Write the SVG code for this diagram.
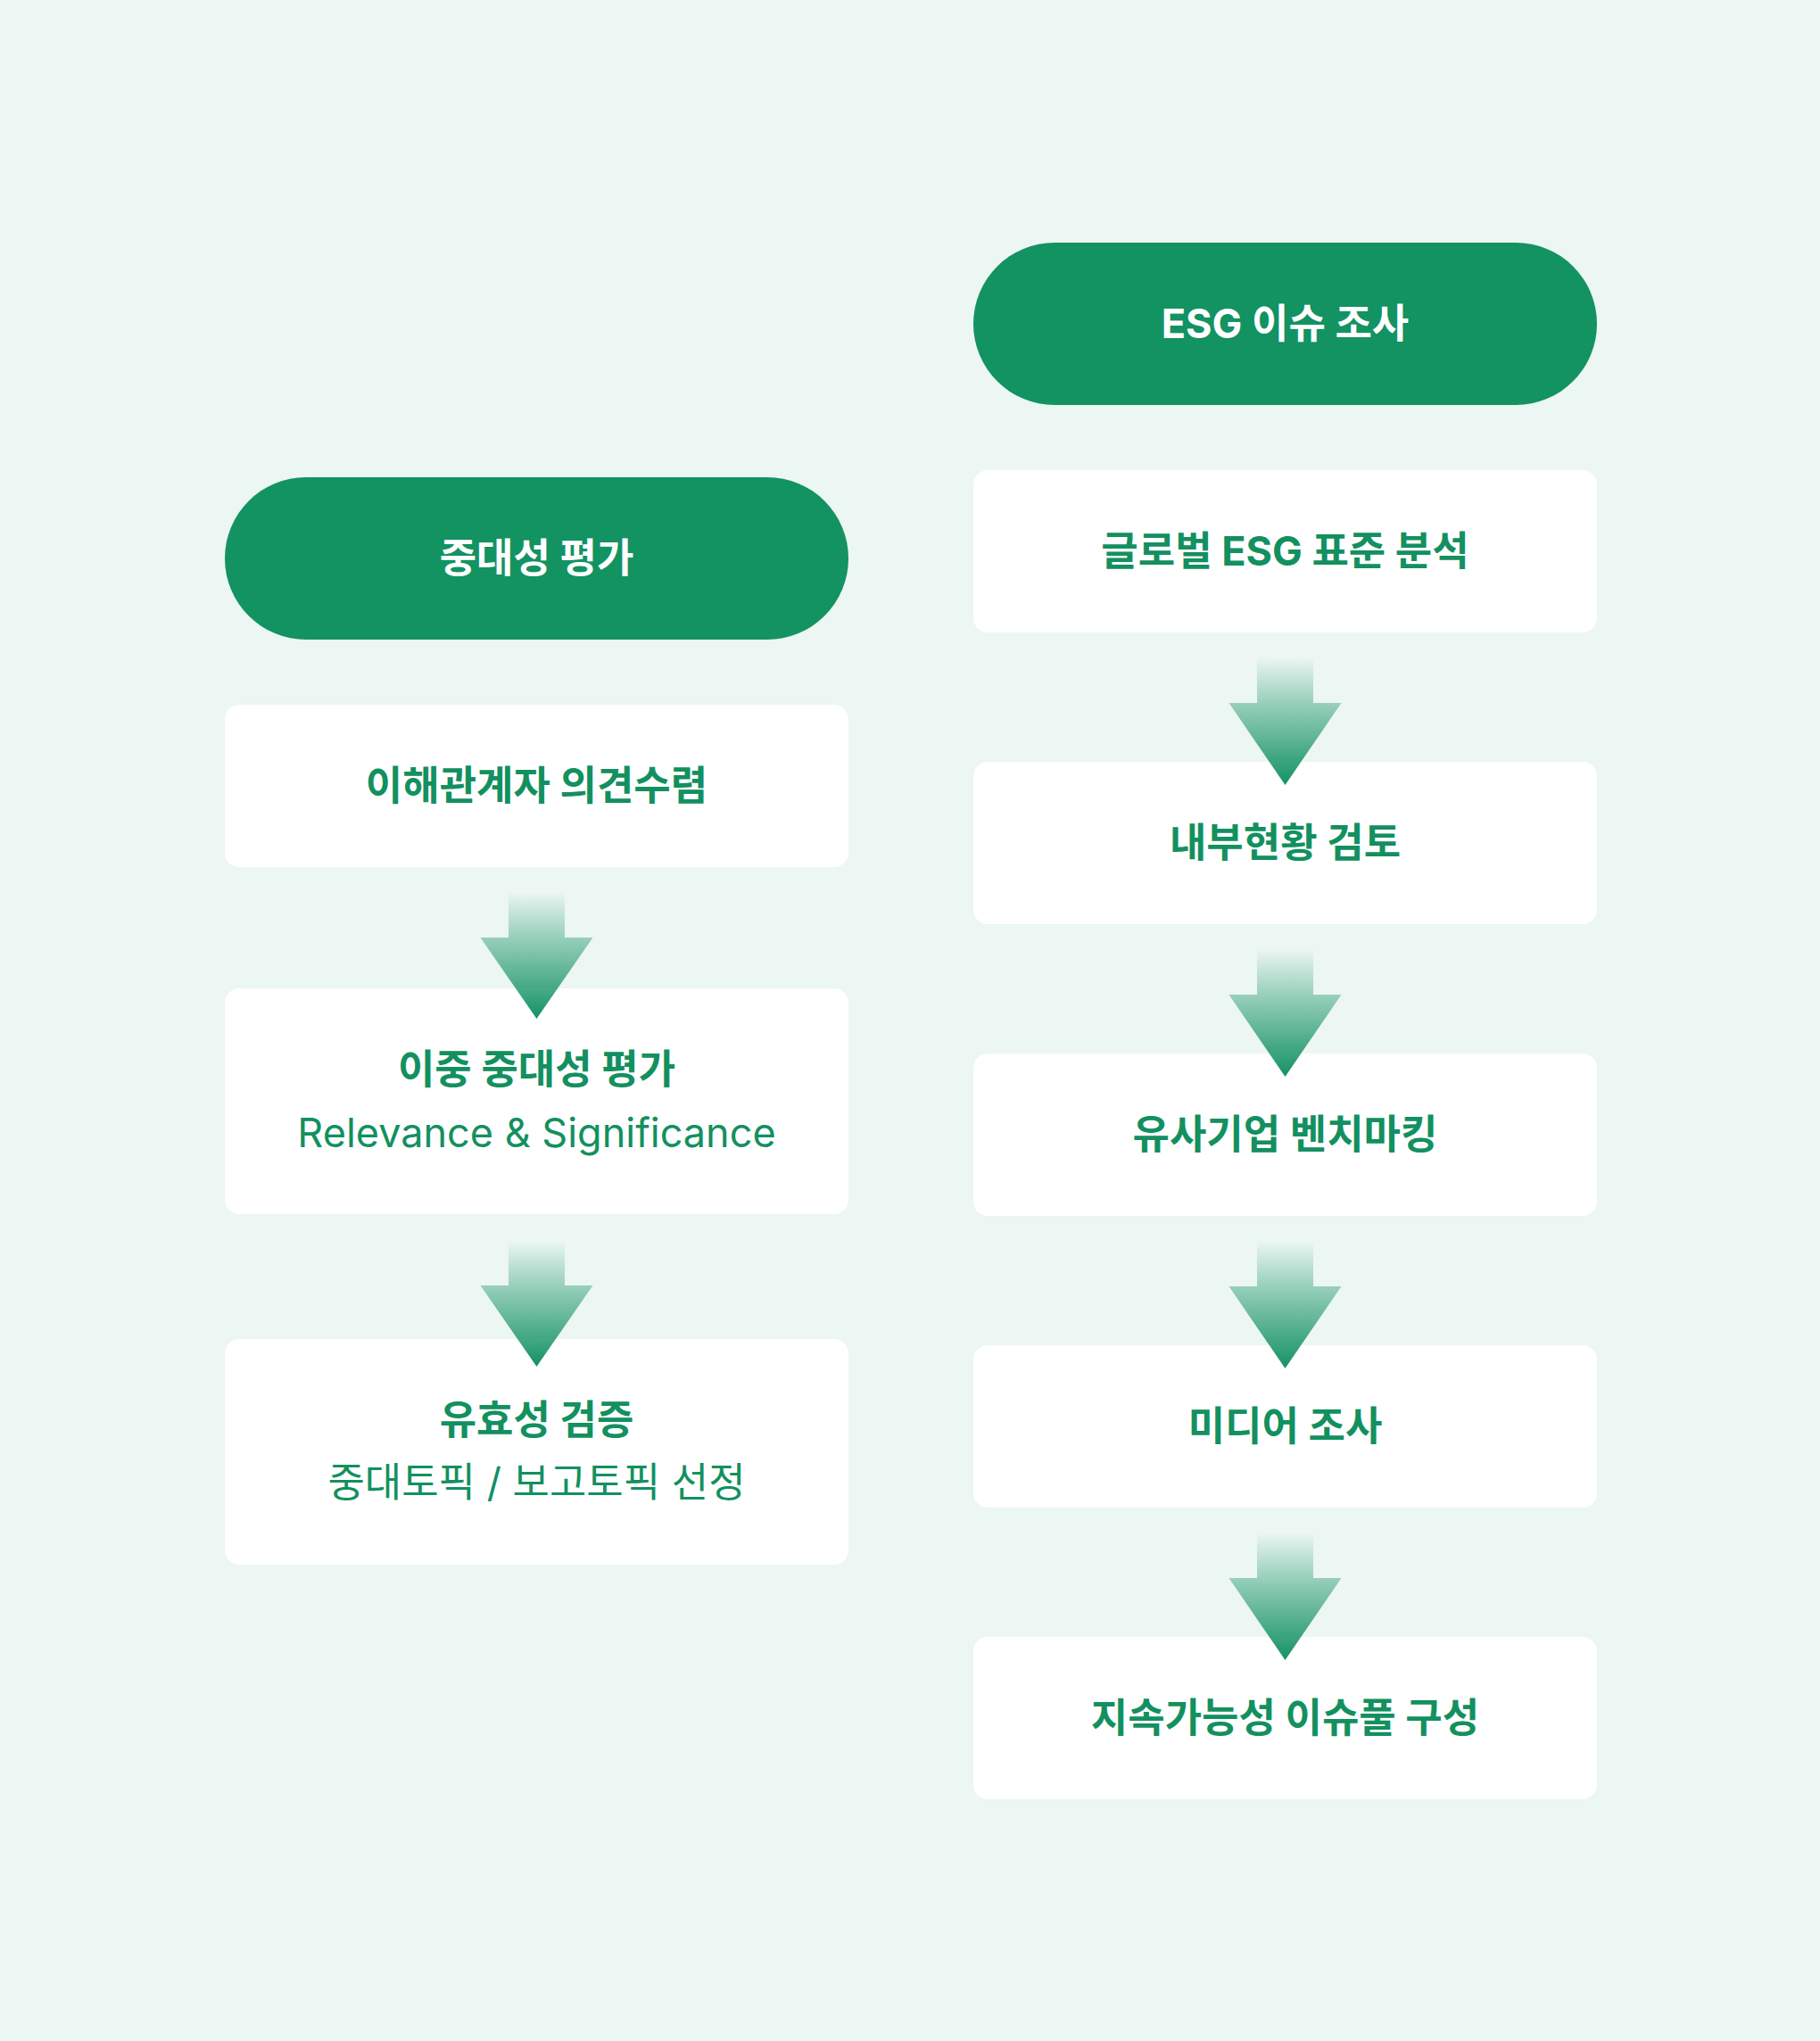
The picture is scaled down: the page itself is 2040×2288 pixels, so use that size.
<svg xmlns="http://www.w3.org/2000/svg" width="2040" height="2288" viewBox="0 0 2040 2288">
<defs>
<style>
.pill{fill:#139262}
.box{fill:#ffffff}
.t{font-family:Inter,"Noto Sans CJK KR",sans-serif;font-size:45px;text-anchor:middle}
.b{font-weight:700}
.w{fill:#ffffff}
.g{fill:#13905f}
.r{font-weight:400;font-size:45px}
.arrow{fill:url(#ag)}
</style>
<linearGradient id="ag" x1="0" y1="0" x2="0" y2="1">
<stop offset="0" stop-color="#139262" stop-opacity="0"/>
<stop offset="0.35" stop-color="#139262" stop-opacity="0.38"/>
<stop offset="1" stop-color="#139262" stop-opacity="1"/>
</linearGradient>
</defs>
<rect x="0" y="0" width="2040" height="2288" fill="#ecf6f3"/>

<g id="left-title">
<rect class="pill" x="252" y="535" width="699" height="182" rx="91"/>
<text class="t b w" x="601.5" y="642">중대성 평가</text>
</g>
<g id="left-1">
<rect class="box" x="252" y="790" width="699" height="182" rx="16"/>
<text class="t b g" x="601.5" y="897">이해관계자 의견수렴</text>
</g>
<g id="left-2">
<rect class="box" x="252" y="1108" width="699" height="253" rx="16"/>
<text class="t b g" x="601.5" y="1215">이중 중대성 평가</text>
<text class="t r g" x="601.5" y="1286">Relevance &amp; Significance</text>
</g>
<g id="left-3">
<rect class="box" x="252" y="1501" width="699" height="253" rx="16"/>
<text class="t b g" x="601.5" y="1608">유효성 검증</text>
<text class="t r g" x="601.5" y="1678">중대토픽 / 보고토픽 선정</text>
</g>

<g id="right-title">
<rect class="pill" x="1091" y="272" width="699" height="182" rx="91"/>
<text class="t b w" x="1440.5" y="379">ESG 이슈 조사</text>
</g>
<g id="right-1">
<rect class="box" x="1091" y="527" width="699" height="182" rx="16"/>
<text class="t b g" x="1440.5" y="634">글로벌 ESG 표준 분석</text>
</g>
<g id="right-2">
<rect class="box" x="1091" y="854" width="699" height="182" rx="16"/>
<text class="t b g" x="1440.5" y="961">내부현황 검토</text>
</g>
<g id="right-3">
<rect class="box" x="1091" y="1181" width="699" height="182" rx="16"/>
<text class="t b g" x="1440.5" y="1288">유사기업 벤치마킹</text>
</g>
<g id="right-4">
<rect class="box" x="1091" y="1508" width="699" height="182" rx="16"/>
<text class="t b g" x="1440.5" y="1615">미디어 조사</text>
</g>
<g id="right-5">
<rect class="box" x="1091" y="1835" width="699" height="182" rx="16"/>
<text class="t b g" x="1440.5" y="1942">지속가능성 이슈풀 구성</text>
</g>

<g id="connectors">
<path class="arrow" d="M570,1000 H633 V1051 H664.5 L601.5,1142 L538.5,1051 H570 Z"/>
<path class="arrow" d="M570,1391 H633 V1441 H664.5 L601.5,1532 L538.5,1441 H570 Z"/>
<path class="arrow" d="M1409,737 H1472 V788 H1503.5 L1440.5,880 L1377.5,788 H1409 Z"/>
<path class="arrow" d="M1409,1064 H1472 V1115 H1503.5 L1440.5,1207 L1377.5,1115 H1409 Z"/>
<path class="arrow" d="M1409,1391 H1472 V1442 H1503.5 L1440.5,1534 L1377.5,1442 H1409 Z"/>
<path class="arrow" d="M1409,1718 H1472 V1769 H1503.5 L1440.5,1861 L1377.5,1769 H1409 Z"/>
</g>
</svg>
